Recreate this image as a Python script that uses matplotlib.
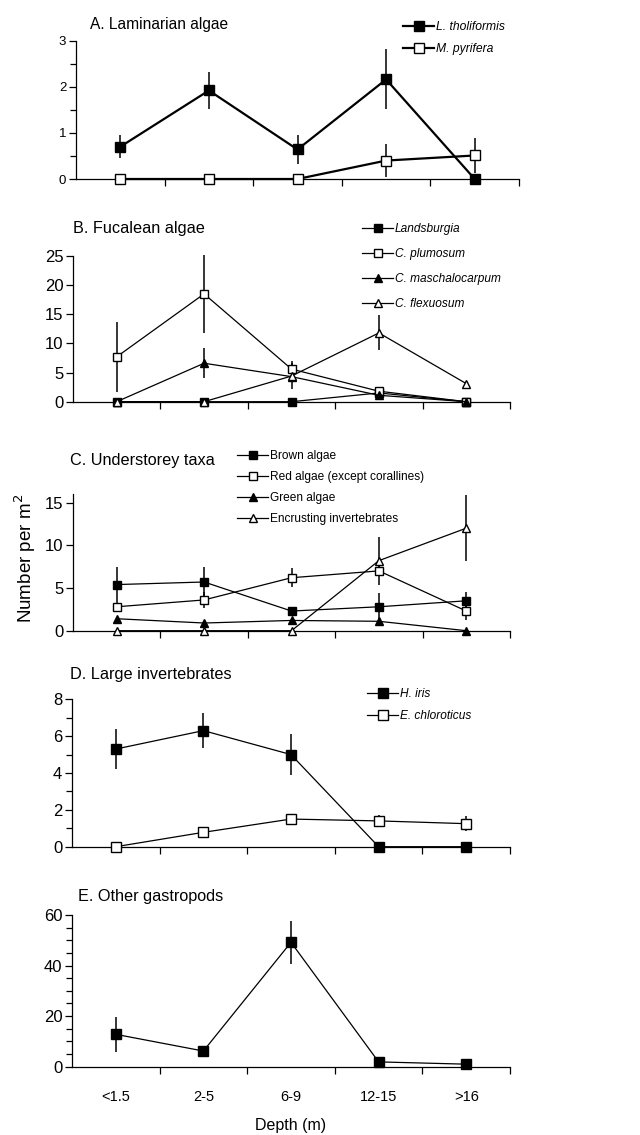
import numpy as np
import matplotlib
matplotlib.use("Agg")
import matplotlib.pyplot as plt
from matplotlib.ticker import MultipleLocator, FixedLocator

plt.rcParams['font.family'] = ['Liberation Sans', 'DejaVu Sans']

depths = ['<1.5', '2-5', '6-9', '12-15', '>16']

# A. Laminarian algae
thol = [0.70, 1.92, 0.64, 2.16, 0.0]
thol_se = [0.25, 0.41, 0.31, 0.65, 0.0]
pyri = [0.0, 0.0, 0.0, 0.40, 0.51]
pyri_se = [0.0, 0.0, 0.0, 0.36, 0.38]

# B. Fucalean algae
lands = [0.0, 0.0, 0.0, 1.5, 0.0]
lands_se = [0.0, 0.0, 0.0, 0.0, 0.0]
plum = [7.7, 18.5, 5.6, 1.8, 0.0]
plum_se = [6.0, 6.7, 1.3, 0.3, 0.0]
masch = [0.0, 6.6, 4.3, 1.1, 0.0]
masch_se = [0.0, 2.6, 0.6, 0.3, 0.0]
flex = [0.0, 0.0, 4.4, 11.8, 3.1]
flex_se = [0.0, 0.0, 2.2, 3.0, 0.0]

# C. Understorey taxa
brown = [5.4, 5.7, 2.3, 2.8, 3.5]
brown_se = [2.1, 1.7, 0.4, 1.6, 1.0]
red = [2.8, 3.6, 6.2, 7.0, 2.3]
red_se = [0.4, 0.9, 1.1, 0.6, 1.1]
green = [1.4, 0.9, 1.2, 1.1, 0.0]
green_se = [0.2, 0.2, 0.2, 0.2, 0.0]
encr = [0.0, 0.0, 0.0, 8.2, 12.0]
encr_se = [0.0, 0.0, 0.0, 2.8, 3.9]

# D. Large invertebrates
iris = [5.3, 6.3, 5.0, 0.0, 0.0]
iris_se = [1.1, 0.95, 1.1, 0.0, 0.0]
chlor = [0.0, 0.78, 1.5, 1.4, 1.25]
chlor_se = [0.0, 0.1, 0.15, 0.3, 0.4]

# E. Other gastropods
gast = [12.8, 6.2, 49.2, 1.9, 1.0]
gast_se = [7.0, 1.0, 8.4, 0.3, 0.2]

x = np.arange(len(depths))

fig = plt.figure(figsize=(6.4, 11.35), dpi=100)
W, H = 640.0, 1135.0


def make_axes(left, right, top, bottom):
    return fig.add_axes([left / W, 1 - bottom / H, (right - left) / W, (bottom - top) / H])


def style(ax, ymax, major, minor=None, labelsize=12, xlabels=False):
    ax.set_xlim(-0.5, 4.5)
    ax.set_ylim(0, ymax)
    for s in ['top', 'right']:
        ax.spines[s].set_visible(False)
    ax.spines['left'].set_linewidth(0.9)
    ax.spines['bottom'].set_linewidth(0.9)
    ax.xaxis.set_major_locator(FixedLocator(x))
    ax.xaxis.set_minor_locator(FixedLocator(np.arange(0.5, 5, 1.0)))
    ax.tick_params(axis='x', which='major', length=0, labelsize=10.5, pad=17)
    ax.tick_params(axis='x', which='minor', length=5, width=0.9, direction='out')
    if xlabels:
        ax.set_xticklabels(depths)
    else:
        ax.set_xticklabels([])
    ax.yaxis.set_major_locator(MultipleLocator(major))
    if minor:
        ax.yaxis.set_minor_locator(MultipleLocator(minor))
        ax.tick_params(axis='y', which='minor', length=4, width=0.9, direction='out')
    ax.tick_params(axis='y', which='major', length=5, width=0.9, direction='out',
                   labelsize=labelsize, pad=2)


def series(ax, y, se, marker, filled, lw=0.9, ms=6, label=None):
    mfc = 'black' if filled else 'white'
    se = np.array(se)
    ax.errorbar(x, y, yerr=np.where(se > 0, se, np.nan), fmt='none',
                ecolor='black', elinewidth=1.1, capsize=0, clip_on=False, zorder=2)
    ax.plot(x, y, color='black', lw=lw, marker=marker, ms=ms, mfc=mfc,
            mec='black', mew=1.0, clip_on=False, zorder=3, label=label)


def legend(ax, x0, y0, spacing, size, italic=False):
    leg = ax.legend(loc='upper left', bbox_to_anchor=(x0 / W, 1 - y0 / H),
                    bbox_transform=fig.transFigure, frameon=False, fontsize=size,
                    handlelength=2.6, handletextpad=0.15, borderpad=0,
                    borderaxespad=0, labelspacing=spacing, numpoints=1)
    if italic:
        for t in leg.get_texts():
            t.set_style('italic')
    return leg


# Panel A
axA = make_axes(76, 519, 40.7, 179)
series(axA, thol, thol_se, 's', True, lw=1.6, ms=7, label='L. tholiformis')
series(axA, pyri, pyri_se, 's', False, lw=1.6, ms=7, label='M. pyrifera')
style(axA, 3, 1, 0.5, labelsize=9.5)
legend(axA, 403, 21, 0.82, 8.7, italic=True)
fig.text(90 / W, 1 - 25 / H, 'A. Laminarian algae', fontsize=11.2, va='center')

# Panel B
axB = make_axes(73, 510, 256, 401.7)
series(axB, lands, lands_se, 's', True, ms=6, label='Landsburgia')
series(axB, plum, plum_se, 's', False, ms=6, label='C. plumosum')
series(axB, masch, masch_se, '^', True, ms=6, label='C. maschalocarpum')
series(axB, flex, flex_se, '^', False, ms=6, label='C. flexuosum')
style(axB, 25, 5, None)
legend(axB, 362, 223, 1.1, 8.6, italic=True)
fig.text(73 / W, 1 - 229 / H, 'B. Fucalean algae', fontsize=11.7, va='center')

# Panel C
axC = make_axes(73, 510, 494, 630.7)
series(axC, brown, brown_se, 's', True, ms=6, label='Brown algae')
series(axC, red, red_se, 's', False, ms=6, label='Red algae (except corallines)')
series(axC, green, green_se, '^', True, ms=6, label='Green algae')
series(axC, encr, encr_se, '^', False, ms=6, label='Encrusting invertebrates')
style(axC, 16, 5, None)
legend(axC, 237, 450, 0.76, 8.6)
fig.text(70 / W, 1 - 460 / H, 'C. Understorey taxa', fontsize=11.7, va='center')
fig.text(25 / W, 1 - 558 / H, 'Number per m$^2$', fontsize=13.5, rotation=90,
         va='center', ha='center')

# Panel D
axD = make_axes(72, 510, 699.3, 846.7)
series(axD, iris, iris_se, 's', True, ms=7, label='H. iris')
series(axD, chlor, chlor_se, 's', False, ms=7, label='E. chloroticus')
style(axD, 8, 2, 1)
legend(axD, 367, 688, 0.86, 8.6, italic=True)
fig.text(70 / W, 1 - 675 / H, 'D. Large invertebrates', fontsize=11.7, va='center')

# Panel E
axE = make_axes(72, 510, 915, 1066.7)
series(axE, gast, gast_se, 's', True, ms=7)
style(axE, 60, 20, 5, xlabels=True)
fig.text(78 / W, 1 - 897 / H, 'E. Other gastropods', fontsize=11.7, va='center')
axE.set_xlabel('Depth (m)', fontsize=11.5, labelpad=10)

fig.savefig('out.png', dpi=100)
